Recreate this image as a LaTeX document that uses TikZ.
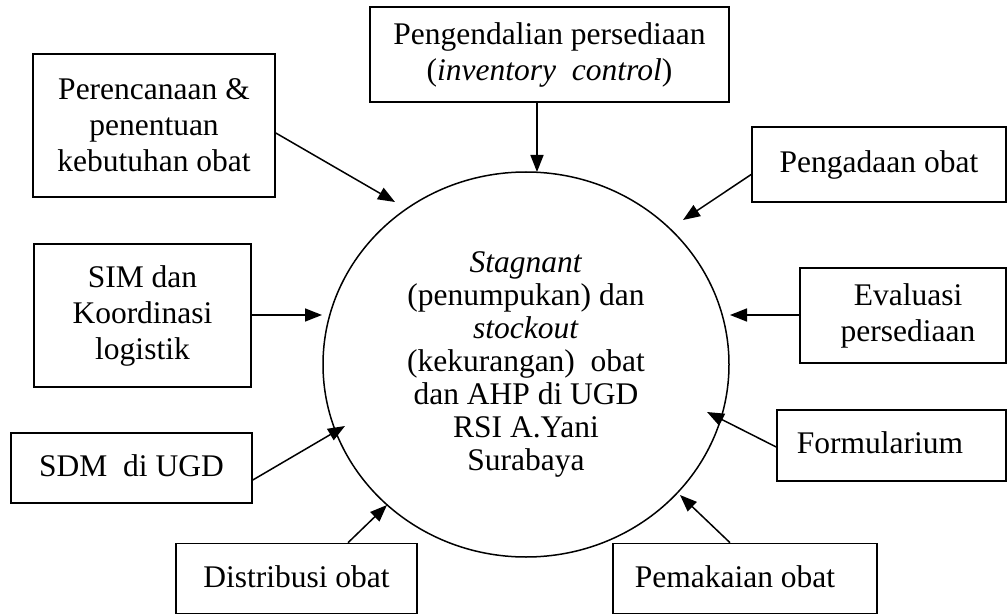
\documentclass[tikz,border=0pt]{standalone}
\usepackage{fontspec}
\setmainfont{Liberation Serif}
\usetikzlibrary{arrows.meta,shapes.geometric,calc}
\begin{document}
\begin{tikzpicture}[x=1pt,y=-1pt,
  box/.style={draw,line width=1.6pt,inner sep=0pt,align=center,font=\fontsize{31.5}{36}\selectfont},
  arr/.style={line width=1.5pt,-{Triangle[length=17pt,width=13pt]}}]
\useasboundingbox (0,0) rectangle (1007,615);
\node[draw,ellipse,line width=1.5pt,minimum width=406pt,minimum height=385pt,inner sep=0pt,align=center,font=\fontsize{31.5}{33}\selectfont] (c) at (526,364.5)
  {\textit{Stagnant}\\(penumpukan) dan\\\textit{stockout}\\(kekurangan)\ \ obat\\dan AHP di UGD\\RSI A.Yani\\Surabaya};
\node[box,minimum width=359pt,minimum height=95pt] (ctrl) at (549.5,54.5) {Pengendalian persediaan\\(\textit{inventory\ \ control})};
\node[box,minimum width=242pt,minimum height=143pt] (plan) at (154,125.5) {Perencanaan \&\\penentuan\\kebutuhan obat};
\node[box,minimum width=254pt,minimum height=75pt] (proc) at (879,164.5) {\raisebox{6pt}{Pengadaan obat}};
\node[box,minimum width=217pt,minimum height=143pt] (sim) at (142.5,315.5) {SIM dan\\Koordinasi\\logistik};
\node[box,minimum width=206pt,minimum height=95pt] (eval) at (903,315.5) {\hspace*{10pt}Evaluasi\\\hspace*{10pt}persediaan};
\node[box,minimum width=229pt,minimum height=71pt] (form) at (891.5,445.5) {\raisebox{5pt}{Formularium}\hspace*{23pt}};
\node[box,minimum width=241pt,minimum height=70pt] (sdm) at (131.5,468) {\raisebox{5pt}{SDM\ \ di UGD}};
\node[box,minimum width=241pt,minimum height=70pt] (dist) at (296.5,578.5) {\raisebox{3pt}{Distribusi obat}};
\node[box,minimum width=264pt,minimum height=70pt] (pem) at (745,578.5) {\raisebox{3pt}{Pemakaian obat}\hspace*{20pt}};
\coordinate (t1) at (537,172);
\coordinate (t2) at (395,202);
\coordinate (t3) at (683,220);
\coordinate (t4) at (322,315);
\coordinate (t5) at (730,315);
\coordinate (t6) at (707,412);
\coordinate (t7) at (345,426);
\coordinate (t8) at (387,505);
\coordinate (t9) at (680,495);
\draw[arr] (ctrl.south -| t1) -- (t1);
\draw[arr] ($(plan.east)+(0,7.5)$) -- (t2);
\draw[arr] ($(proc.west)+(0,10)$) -- (t3);
\draw[arr] (sim.east |- t4) -- (t4);
\draw[arr] (eval.west |- t5) -- (t5);
\draw[arr] ($(form.west)+(0,1.5)$) -- (t6);
\draw[arr] ($(sdm.east)+(0,12)$) -- (t7);
\draw[arr] ($(dist.north)+(51.5,0)$) -- (t8);
\draw[arr] ($(pem.north)+(-15,0)$) -- (t9);
\end{tikzpicture}
\end{document}
